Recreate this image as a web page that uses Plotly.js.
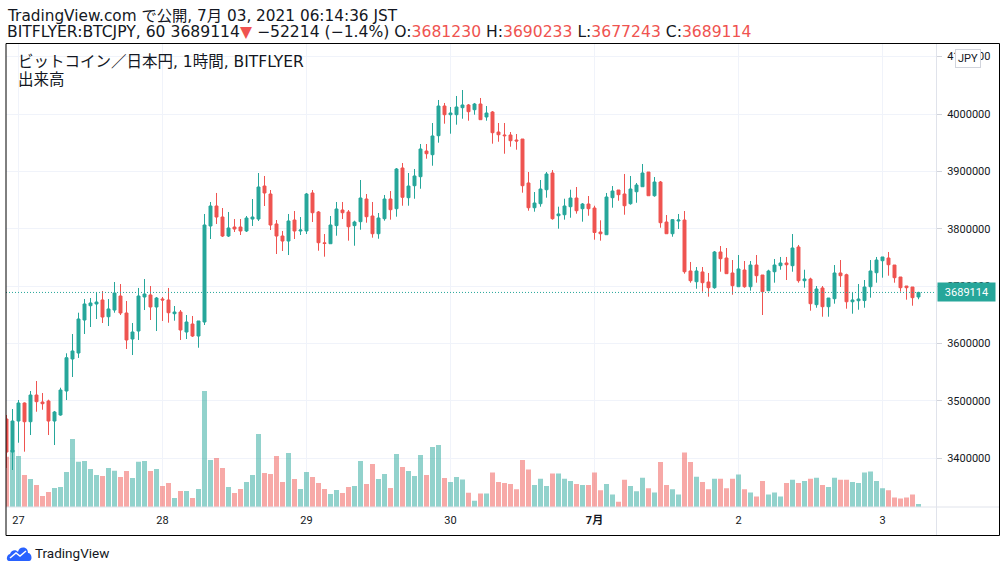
<!DOCTYPE html>
<html>
<head>
<meta charset="utf-8">
<script src="https://cdn.plot.ly/plotly-3.0.1.min.js"></script>
<style>
html,body{margin:0;padding:0;background:#fff;overflow:hidden}
#chart{width:1006px;height:572px}
</style>
</head>
<body>
<div id="chart"></div>
<script>
// Hourly candles, BITFLYER:BTCJPY, first candle = 2021-06-26 22:00 JST
const startUTC = Date.UTC(2021, 5, 26, 22, 0);

const openPx = [
3468600,3411100,3465100,3496500,3463900,3510400,3498200,3500000,3465100,3475600,
3517400,3573200,3583600,3641100,3666000,3669000,3676000,3646800,3658500,3682900,
3653300,3608000,3621900,3681200,3684700,3663800,3677700,3676000,3652100,3655000,
3620200,3634100,3613200,3637600,3804900,3839700,3820500,3787400,3803100,3803100,
3796200,3817000,3817000,3874500,3860600,3808400,3787400,3778700,3815300,3796200,
3796200,3862400,3829300,3775500,3774000,3805500,3832700,3829300,3805500,3812400,
3851900,3822300,3791400,3817600,3851900,3835000,3905900,3854200,3875100,3890800,
3935500,3929100,3962200,4013900,3998800,3998800,4011000,4015700,4007500,4017400,
3994800,4003500,3968600,3963400,3963400,3954700,3956400,3879800,3836700,3843700,
3868100,3897200,3822800,3824500,3838500,3853600,3835000,3843200,3836200,3794400,
3789700,3854200,3867600,3860600,3843700,3864600,3873300,3898900,3857600,3881500,
3811800,3791400,3813600,3815300,3726500,3707800,3724800,3707300,3697400,3759600,
3749100,3723000,3699100,3728200,3699100,3736900,3719500,3692100,3725200,3735700,
3740400,3735700,3768300,3709600,3712500,3667800,3696900,3664300,3678200,3723000,
3720000,3672900,3674700,3675000,3699100,3723500,3744400,3749100,3736900,3716000,
3700300,3698600,3681230];

const highPx = [
3475600,3486000,3501700,3497500,3517400,3534800,3513900,3502300,3482600,3523100,
3583100,3616700,3653800,3677700,3679400,3689900,3691600,3677700,3707300,3703800,
3674200,3635900,3696900,3712500,3700300,3681200,3681200,3696900,3665500,3658500,
3649800,3648100,3639400,3825800,3846700,3862400,3836200,3829300,3817000,3817000,
3822300,3851900,3897200,3892000,3867600,3815300,3796200,3825800,3831000,3820500,
3862400,3867600,3831000,3790900,3822300,3846700,3846700,3832700,3814100,3885000,
3860600,3846700,3827500,3858900,3865800,3905900,3914600,3897200,3904200,3947700,
3947700,3984300,4024400,4019200,4012200,4031400,4041800,4017400,4019200,4027900,
4013900,4005200,3984300,3984300,3968600,3965100,3956400,3898900,3864100,3885000,
3898900,3902400,3838500,3852400,3868100,3872800,3844900,3857100,3840200,3814800,
3862400,3874500,3867600,3895500,3892000,3879800,3912900,3898900,3890200,3883300,
3824000,3817000,3825800,3831000,3742200,3733400,3733400,3723000,3761300,3770000,
3766500,3745600,3754300,3743900,3743900,3754300,3719500,3728700,3747400,3750900,
3750900,3790900,3771800,3728700,3714800,3700300,3700300,3679400,3736900,3745600,
3721800,3688700,3703800,3710800,3745600,3750900,3750900,3759600,3736900,3716000,
3700300,3698600,3690233];

const lowPx = [
3383300,3379800,3427300,3411700,3440700,3481300,3484800,3440700,3423300,3474400,
3501700,3541800,3575000,3616700,3628900,3642800,3635900,3630600,3653800,3649800,
3590600,3580100,3606300,3658500,3641100,3621900,3639400,3636400,3639900,3606300,
3608000,3611500,3592800,3632400,3782200,3808400,3785700,3785700,3794400,3789200,
3794400,3804900,3813600,3839700,3797900,3756100,3761300,3754300,3782200,3789200,
3790900,3811800,3761800,3751400,3774000,3788000,3817000,3779300,3770500,3798400,
3810600,3784500,3782700,3814100,3815900,3821100,3840200,3840200,3852400,3869800,
3922100,3909900,3950000,3983100,3965700,3981400,3991800,3988300,3998800,3990100,
3988300,3948300,3951700,3930800,3943000,3937800,3862900,3831500,3829800,3838500,
3854200,3815900,3800200,3815900,3819300,3826300,3812400,3822800,3781000,3779300,
3789700,3836700,3848900,3824500,3842000,3845400,3873300,3857600,3855900,3801900,
3791400,3786200,3799600,3721800,3706100,3695600,3690400,3681700,3695600,3725200,
3721800,3685200,3699100,3697400,3692100,3706100,3649800,3692100,3706100,3728700,
3710800,3725200,3706100,3697400,3657300,3662500,3646800,3646800,3669500,3698600,
3660800,3652100,3659000,3662500,3680000,3706100,3714800,3718300,3706100,3690400,
3676500,3666000,3677243];

const closePx = [
3411100,3465100,3496500,3463900,3510400,3498800,3495300,3465100,3480800,3519100,
3575400,3587100,3642800,3669000,3670700,3672400,3646300,3660300,3688100,3653300,
3606300,3620200,3682900,3686400,3663800,3679400,3676000,3653800,3655000,3623700,
3637600,3613200,3639400,3806600,3839700,3820500,3787400,3801400,3799600,3796200,
3818800,3820500,3872800,3862400,3806600,3787400,3778700,3813600,3796200,3797900,
3860600,3828000,3775800,3774400,3806600,3834500,3828000,3803600,3811800,3853600,
3821100,3791400,3818800,3851900,3833300,3904200,3854900,3874500,3892000,3939000,
3930800,3961700,4013900,3998800,4001700,4012200,4015700,4004000,4017400,3990100,
4001700,3967400,3963900,3962200,3953500,3953000,3875100,3836700,3844900,3869300,
3895500,3817600,3825800,3839700,3853600,3831500,3843200,3835000,3793600,3791400,
3855400,3865800,3859400,3840200,3869300,3876300,3897200,3857600,3881500,3810600,
3791400,3815900,3815300,3725200,3709600,3726500,3706100,3697400,3759600,3747900,
3721800,3700900,3730000,3699100,3736900,3718300,3690400,3726500,3736900,3740400,
3737400,3766500,3709600,3712500,3669500,3695100,3664300,3679400,3723000,3718300,
3672900,3676000,3677700,3698600,3726500,3745600,3750900,3737400,3714800,3697400,
3697400,3680000,3689114];

const volume = [
201,228,204,128,112,88,44,60,76,80,
140,272,181,184,152,128,124,156,145,120,
144,116,181,184,144,152,84,96,36,64,
64,36,72,464,188,196,156,80,56,72,
100,128,292,136,132,204,100,216,112,72,
140,120,96,72,52,68,56,80,84,184,
92,172,112,132,76,212,160,144,124,208,
128,240,248,116,100,120,110,57,25,54,
54,138,100,96,92,71,188,150,88,113,
84,134,134,113,104,92,88,88,138,67,
92,50,21,109,84,63,117,75,58,180,
88,71,50,218,180,121,100,71,113,113,
75,113,130,71,58,42,104,50,58,42,
96,109,96,104,113,117,88,80,117,109,
109,100,96,138,142,104,75,67,38,34,
38,50,12];

const dayTicks = ['2021-06-27','2021-06-28','2021-06-29','2021-06-30','2021-07-01','2021-07-02','2021-07-03'];
const dayLabels = ['27','28','29','30','<b>7月</b>','2','3'];
const priceTicks = [3400000,3500000,3600000,3700000,3800000,3900000,4000000,4100000];

const headerLine1 = 'TradingView.com で公開, 7月 03, 2021 06:14:36 JST';
const symbolText = 'BITFLYER:BTCJPY, 60';
const changeText = '−52214 (−1.4%)';
const legendLine1 = 'ビットコイン／日本円, 1時間, BITFLYER';
const legendLine2 = '出来高';

const UP = '#26a69a', DOWN = '#ef5350';
const UPVOL = 'rgba(38,166,154,0.5)', DOWNVOL = 'rgba(239,83,80,0.5)';
const GRID = '#f0f3fa';
const TXT = '#131722';
const FONT = 'Roboto, "Noto Sans CJK JP", sans-serif';
const HFONT = '"DejaVu Sans", "Noto Sans CJK JP", sans-serif';

function fmt(ms){
  const d = new Date(ms);
  const p = n => String(n).padStart(2,'0');
  return d.getUTCFullYear()+'-'+p(d.getUTCMonth()+1)+'-'+p(d.getUTCDate())+' '+p(d.getUTCHours())+':'+p(d.getUTCMinutes());
}
const times = openPx.map((_, i) => fmt(startUTC + i*3600000));
const volColors = openPx.map((o, i) => closePx[i] >= o ? UPVOL : DOWNVOL);

const n = openPx.length;
const lastO = openPx[n-1], lastH = highPx[n-1], lastL = lowPx[n-1], lastC = closePx[n-1];

// pixel helpers for layout positioning (plot area: x 6..936, y 44..507)
const PL = 6, PT = 44, PW = 930, PH = 463;
const px = x => (x - PL) / PW;
const py = y => (PT + PH - y) / PH;

const red = s => '<span style="color:' + DOWN + '">' + s + '</span>';
const headerLine2 = symbolText + ' ' + lastC + red('▼') + ' ' + changeText +
  ' O:' + red(lastO) + ' H:' + red(lastH) + ' L:' + red(lastL) + ' C:' + red(lastC);

const traces = [
  {
    type: 'bar', x: times, y: volume, yaxis: 'y', xaxis: 'x',
    marker: {color: volColors, line: {width: 0}},
    width: 3000000, hoverinfo: 'skip'
  },
  {
    type: 'candlestick', x: times, open: openPx, high: highPx, low: lowPx, close: closePx,
    xaxis: 'x', yaxis: 'y2',
    increasing: {line: {color: UP, width: 1}, fillcolor: UP},
    decreasing: {line: {color: DOWN, width: 1}, fillcolor: DOWN},
    whiskerwidth: 0, hoverinfo: 'skip'
  }
];

const layout = {
  width: 1006, height: 572,
  margin: {l: PL, r: 1006 - PL - PW, t: PT, b: 572 - PT - PH, pad: 0},
  paper_bgcolor: '#ffffff', plot_bgcolor: '#ffffff',
  showlegend: false, hovermode: false,
  font: {family: FONT, color: TXT, size: 11},
  xaxis: {
    type: 'date', range: ['2021-06-26 21:55', '2021-07-03 08:55'],
    tickmode: 'array', tickvals: dayTicks, ticktext: dayLabels,
    showgrid: true, gridcolor: GRID, gridwidth: 1, ticks: '', zeroline: false, showline: false,
    ticklabelstandoff: 5,
    rangeslider: {visible: false}, tickfont: {family: FONT, size: 11, color: TXT},
    fixedrange: true
  },
  yaxis: {range: [0, 1852], visible: false, fixedrange: true},
  yaxis2: {
    overlaying: 'y', side: 'right', anchor: 'x',
    range: [3315316, 4121954],
    tickmode: 'array', tickvals: priceTicks, tickformat: 'd',
    showgrid: true, gridcolor: GRID, gridwidth: 1,
    ticks: 'outside', ticklen: 5, tickcolor: '#d1d4dc', ticklabelstandoff: 3,
    tickfont: {family: FONT, size: 11, color: TXT},
    zeroline: false, showline: false, fixedrange: true
  },
  shapes: [
    {type: 'line', xref: 'paper', yref: 'paper', x0: px(936.5), x1: px(936.5), y0: py(535), y1: py(44), line: {color: '#e0e3eb', width: 1}},
    {type: 'line', xref: 'paper', yref: 'paper', x0: px(6), x1: px(999), y0: py(507), y1: py(507), line: {color: '#e0e3eb', width: 1}},
    {type: 'line', xref: 'paper', yref: 'y2', x0: 0, x1: 1, y0: lastC, y1: lastC, line: {color: UP, width: 1, dash: '1px,2px'}},
    {type: 'rect', xref: 'paper', yref: 'paper', x0: px(6), x1: px(999.5), y0: py(535.5), y1: py(43.5), line: {color: '#000000', width: 1}},
    {type: 'path', xref: 'paper', yref: 'paper', xsizemode: 'pixel', ysizemode: 'pixel', xanchor: px(6), yanchor: py(561),
     path: 'M 3 0 C 0 0 0 6 4 7 C 5 11 10 12 12 9 C 13 15 22 15 22 8 C 26 8 27 0 23 0 Z',
     fillcolor: '#2962ff', line: {width: 0}},
    {type: 'path', xref: 'paper', yref: 'paper', xsizemode: 'pixel', ysizemode: 'pixel', xanchor: px(6), yanchor: py(561),
     path: 'M 4 3 L 10 8 L 14 5 L 20 10', line: {color: '#ffffff', width: 1.5}}
  ],
  annotations: [
    {xref: 'paper', yref: 'paper', x: px(5), y: py(15.5), xanchor: 'left', yanchor: 'middle', showarrow: false,
     text: headerLine1, font: {family: HFONT, size: 15.3, color: TXT}},
    {xref: 'paper', yref: 'paper', x: px(5), y: py(32), xanchor: 'left', yanchor: 'middle', showarrow: false,
     text: headerLine2, font: {family: HFONT, size: 15.6, color: TXT}},
    {xref: 'paper', yref: 'paper', x: px(16), y: py(62), xanchor: 'left', yanchor: 'middle', showarrow: false,
     text: legendLine1, font: {family: HFONT, size: 15.5, color: TXT}},
    {xref: 'paper', yref: 'paper', x: px(16), y: py(80.5), xanchor: 'left', yanchor: 'middle', showarrow: false,
     text: legendLine2, font: {family: HFONT, size: 15.5, color: TXT}},
    {xref: 'paper', yref: 'y2', x: 1, y: lastC, xanchor: 'left', yanchor: 'middle', xshift: 1, showarrow: false,
     text: String(lastC), bgcolor: UP, width: 51, height: 12, borderpad: 3, align: 'center',
     font: {family: FONT, size: 11, color: '#ffffff'}},
    {xref: 'paper', yref: 'paper', x: px(968), y: py(58.5), xanchor: 'center', yanchor: 'middle', showarrow: false,
     text: 'JPY', bgcolor: '#ffffff', bordercolor: '#d1d4dc', borderwidth: 1, borderpad: 2,
     font: {family: FONT, size: 11, color: TXT}},
    {xref: 'paper', yref: 'paper', x: px(33), y: py(553), xanchor: 'left', yanchor: 'middle', showarrow: false,
     text: 'TradingView', font: {family: FONT, size: 13.5, color: TXT}}
  ]
};

Plotly.newPlot('chart', traces, layout, {staticPlot: true, displayModeBar: false});
</script>
</body>
</html>
